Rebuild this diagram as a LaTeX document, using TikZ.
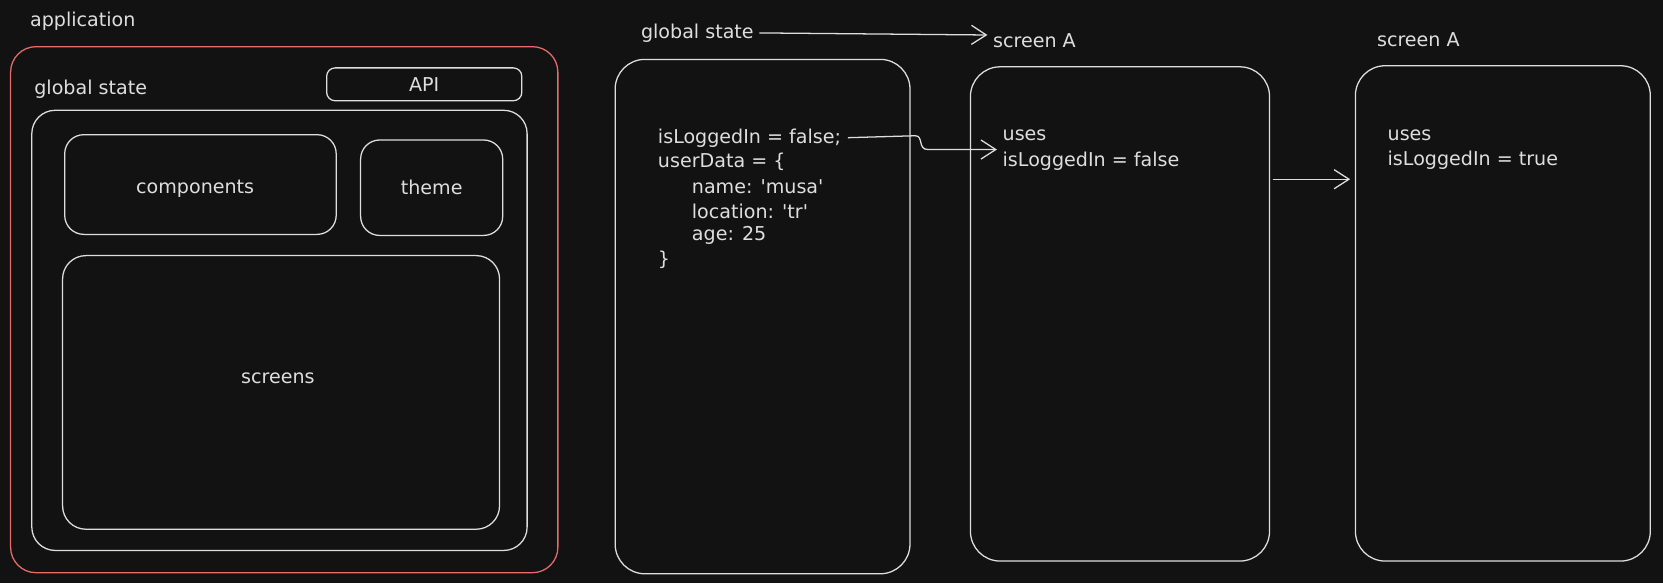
\documentclass[tikz,border=0pt]{standalone}
\usepackage{fontspec}
\setmainfont{DejaVu Sans}
\usetikzlibrary{arrows.meta,fit}
\definecolor{bg}{RGB}{18,18,18}
\definecolor{ink}{RGB}{222,222,222}
\definecolor{redink}{RGB}{232,106,106}
\begin{document}
\begin{tikzpicture}[x=0.5pt,y=-0.5pt,
  box/.style={draw=ink, line width=0.6pt, rounded corners=#1, inner sep=0pt, outer sep=0pt},
  box/.default=10pt,
  redbox/.style={box=12pt, draw=redink},
  txt/.style={text=ink, inner sep=0pt, font=\fontsize{9}{11}\selectfont},
  arr/.style={draw=ink, line width=0.6pt, -{Straight Barb[length=7pt,width=9pt]}}]
\fill[bg] (0,0) rectangle (1568,550);
\useasboundingbox (0,0) rectangle (1568,550);

% ---------- left: application ----------
\node[txt, anchor=west] (apptitle) at (28,20) {application};
\node[redbox, fit={(10,44) (526,540)}] (app) {};
\node[txt, anchor=west] (gsleft) at (32,84) {global state};
\node[box=4pt, fit={(308,64) (492,95)}] (api) {};
\node[txt] (apitxt) at (400,80) {API};
\node[box=11pt, fit={(30,104) (497,519)}] (inner) {};
\node[box=9pt, fit={(61,127) (317,221)}] (comp) {};
\node[txt] (comptxt) at (184,178) {components};
\node[box=9pt, fit={(340,132) (474,222)}] (theme) {};
\node[txt] (themetxt) at (407,177) {theme};
\node[box=11pt, fit={(59,241) (471,499)}] (screens) {};
\node[txt] (screenstxt) at (262,357) {screens};

% ---------- right: global state ----------
\node[txt, anchor=west] (gsright) at (604,31) {global state};
\node[txt, anchor=west] (sa1) at (936,38) {screen A};
\node[txt, anchor=west] (sa2) at (1298,37) {screen A};
\coordinate (topend) at (931,33);
\draw[arr, shorten <=2.5pt] (gsright.east) -- (topend);

\node[box=14pt, fit={(580,56) (858,541)}] (gsbox) {};
\node[txt, anchor=west] (l1) at (620,130) {isLoggedIn = false;};
\node[txt, anchor=west] (l2) at (620,153) {userData = \{};
\node[txt, anchor=west] (l3) at (652,176) {name: \textquotesingle musa\textquotesingle};
\node[txt, anchor=west] (l4) at (652,199) {location: \textquotesingle tr\textquotesingle};
\node[txt, anchor=west] (l5) at (652,222) {age: 25};
\node[txt, anchor=west] (l6) at (620,245) {\}};

\node[box=14pt, fit={(915,63) (1197,529)}] (scr1) {};
\node[txt, anchor=west] (u1) at (945,128) {uses};
\node[txt, anchor=west] (v1) at (945,152) {isLoggedIn = false};

\node[box=14pt, fit={(1278,62) (1556,529)}] (scr2) {};
\node[txt, anchor=west] (u2) at (1308,128) {uses};
\node[txt, anchor=west] (v2) at (1308,151) {isLoggedIn = true};

\coordinate (usesend) at (940,141);
\draw[arr, shorten <=3pt] (l1.east) -- (863,128) .. controls (871,128) and (865,141) .. (875,141) -- (usesend);

\coordinate (m1) at (1200,169);
\coordinate (m2) at (1273,169);
\draw[arr] (m1) -- (m2);
\end{tikzpicture}
\end{document}
